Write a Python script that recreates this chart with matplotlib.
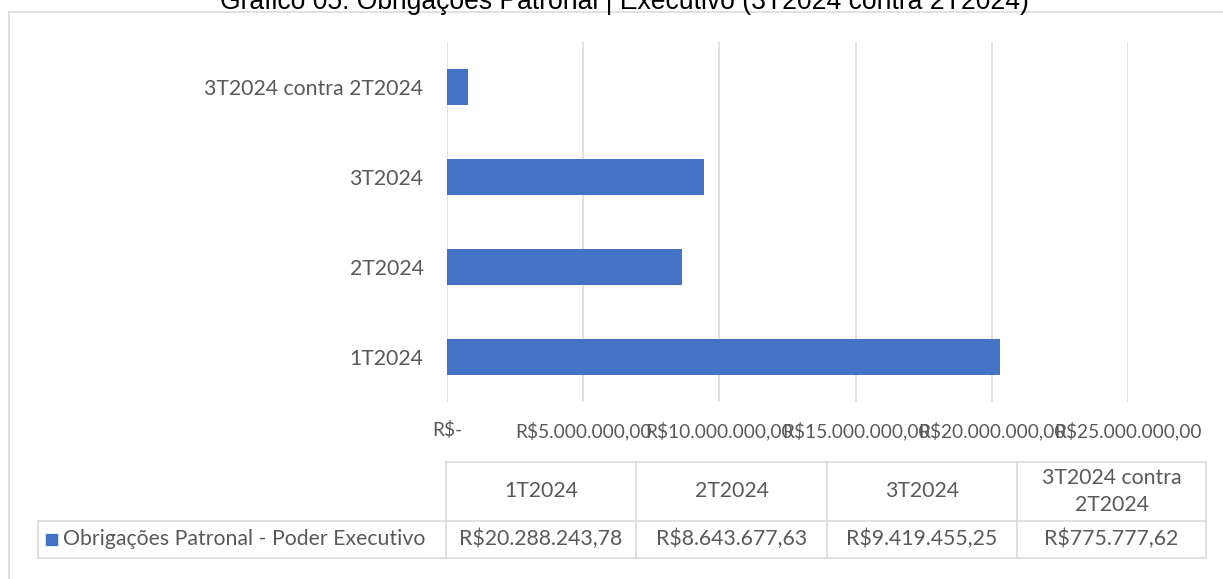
import matplotlib
matplotlib.use("Agg")
import matplotlib.pyplot as plt
from matplotlib.lines import Line2D
from matplotlib.patches import Rectangle

# ---- data ----
categories = ["1T2024", "2T2024", "3T2024", "3T2024 contra 2T2024"]
table_headers = ["1T2024", "2T2024", "3T2024", "3T2024 contra\n2T2024"]
values = [20288243.78, 8643677.63, 9419455.25, 775777.62]
series_name = "Obrigações Patronal - Poder Executivo"
x_ticks = [0, 5000000, 10000000, 15000000, 20000000, 25000000]
title = "Gráfico 05: Obrigações Patronal | Executivo (3T2024 contra 2T2024)"

W, H = 1223, 579
DPI = 100
BAR = "#4472C4"
GRID = "#D9D9D9"
TXT = "#595959"
FONT = "Lato"
FS = 15.3
FS_TICK = 13.8


def brl(v):
    if v == 0:
        return "R$-"
    s = f"{v:,.2f}"
    s = s.replace(",", "X").replace(".", ",").replace("X", ".")
    return "R$" + s


def fx(px):
    return px / W


def fy(py):
    return 1 - py / H


fig = plt.figure(figsize=(W / DPI, H / DPI), dpi=DPI)
fig.patch.set_facecolor("white")

# outer frame (cut at right/bottom)
fig.add_artist(Line2D([fx(9), fx(9)], [fy(12), fy(H + 5)], color=GRID, lw=1.1))
fig.add_artist(Line2D([fx(9), fx(W + 5)], [fy(12), fy(12)], color=GRID, lw=1.1))

# title (partially cut off at top)
fig.text(fx(624), fy(9), title, ha="center", va="baseline",
         fontsize=19.1, family="Liberation Sans", color="black")

# plot area
x0, x1 = 447, 1128
y0, y1 = 42, 402
ax = fig.add_axes([fx(x0), fy(y1), fx(x1) - fx(x0), (y1 - y0) / H])
ypos = list(range(len(categories)))
ax.barh(ypos, values, height=0.4, color=BAR, zorder=3)
ax.set_xlim(0, 25000000)
ax.set_ylim(-0.5, len(categories) - 0.5)
ax.set_xticks(x_ticks)
ax.set_xticklabels([brl(t) for t in x_ticks], fontsize=FS_TICK, family=FONT, color=TXT)
ax.set_yticks(ypos)
ax.set_yticklabels(categories, fontsize=FS, family=FONT, color=TXT)
ax.tick_params(axis="both", length=0)
ax.tick_params(axis="x", pad=14)
ax.tick_params(axis="y", pad=17)
ax.grid(axis="x", color=GRID, lw=1.1, zorder=0)
for s in ax.spines.values():
    s.set_visible(False)
ax.set_facecolor("none")

# data table
col_x = [446, 636, 827, 1017, 1206]
leg_left = 38
r_top, r_mid, r_bot = 462, 520.5, 558
lw = 1.1
fig.add_artist(Line2D([fx(col_x[0]), fx(col_x[-1])], [fy(r_top)] * 2, color=GRID, lw=lw))
fig.add_artist(Line2D([fx(leg_left), fx(col_x[-1])], [fy(r_mid)] * 2, color=GRID, lw=lw))
fig.add_artist(Line2D([fx(leg_left), fx(col_x[-1])], [fy(r_bot)] * 2, color=GRID, lw=lw))
for cx in col_x:
    fig.add_artist(Line2D([fx(cx)] * 2, [fy(r_top), fy(r_bot)], color=GRID, lw=lw))
fig.add_artist(Line2D([fx(leg_left)] * 2, [fy(r_mid), fy(r_bot)], color=GRID, lw=lw))

for i, (hdr, v) in enumerate(zip(table_headers, values)):
    cx = (col_x[i] + col_x[i + 1]) / 2
    fig.text(fx(cx), fy((r_top + r_mid) / 2), hdr, ha="center", va="center",
             fontsize=FS, family=FONT, color=TXT, linespacing=1.45)
    fig.text(fx(cx), fy((r_mid + r_bot) / 2), brl(v), ha="center", va="center",
             fontsize=FS, family=FONT, color=TXT)

# legend key in table
fig.add_artist(Rectangle((fx(46), fy(545)), 11 / W, 11 / H, color=BAR,
                         transform=fig.transFigure))
fig.text(fx(63), fy((r_mid + r_bot) / 2), series_name, ha="left", va="center",
         fontsize=FS, family=FONT, color=TXT)

fig.savefig("out.png", dpi=DPI, facecolor="white")
